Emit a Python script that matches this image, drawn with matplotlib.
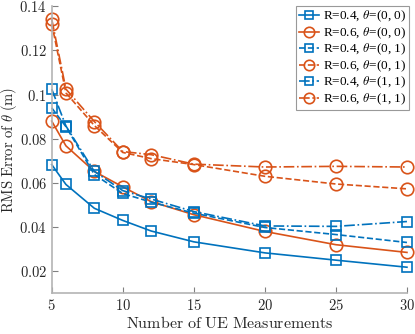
import numpy as np
import matplotlib
matplotlib.use('Agg')
import matplotlib.pyplot as plt

plt.rcParams['mathtext.fontset'] = 'cm'
plt.rcParams['font.family'] = ['DejaVu Serif']

#Number of UE measurements
n_ue = [5, 6, 8, 10, 12, 15, 20, 25, 30]

#RMS error for each case
r04_00 = [0.0683, 0.0593, 0.0485, 0.0430, 0.0382, 0.0333, 0.0283, 0.0250, 0.0218]
r06_00 = [0.0880, 0.0768, 0.0652, 0.0582, 0.0515, 0.0456, 0.0380, 0.0320, 0.0285]
r04_01 = [0.0940, 0.0855, 0.0638, 0.0552, 0.0513, 0.0463, 0.0398, 0.0366, 0.0330]
r06_01 = [0.1322, 0.1008, 0.0860, 0.0738, 0.0710, 0.0683, 0.0630, 0.0595, 0.0573]
r04_11 = [0.1025, 0.0858, 0.0652, 0.0565, 0.0527, 0.0470, 0.0405, 0.0403, 0.0425]
r06_11 = [0.1342, 0.1025, 0.0878, 0.0742, 0.0728, 0.0685, 0.0672, 0.0675, 0.0672]

blue = '#0072BD'
red  = '#D95319'

series = [
    (r04_00, blue, 's', '-',  r'R=0.4, $\theta$=(0, 0)'),
    (r06_00, red,  'o', '-',  r'R=0.6, $\theta$=(0, 0)'),
    (r04_01, blue, 's', '--', r'R=0.4, $\theta$=(0, 1)'),
    (r06_01, red,  'o', '--', r'R=0.6, $\theta$=(0, 1)'),
    (r04_11, blue, 's', '-.', r'R=0.4, $\theta$=(1, 1)'),
    (r06_11, red,  'o', '-.', r'R=0.6, $\theta$=(1, 1)'),
]

fig = plt.figure(figsize=(4.15, 3.34), dpi=100)
ax = fig.add_axes([0.1246, 0.122, 0.856, 0.859])

for vals, col, mk, ls, lab in series:
    ms = 7 if mk == 's' else 9
    ax.plot(n_ue, vals, color=col, linestyle=ls, marker=mk, markersize=ms,
            markerfacecolor='none', markeredgewidth=1.2, linewidth=1.2,
            label=lab, clip_on=False)

ax.set_xlim(5, 30)
ax.set_ylim(0.01, 0.14)
ax.set_xticks([5, 10, 15, 20, 25, 30])
ax.set_xticklabels([r'$5$', r'$10$', r'$15$', r'$20$', r'$25$', r'$30$'])
ax.set_yticks([0.02, 0.04, 0.06, 0.08, 0.1, 0.12, 0.14])
ax.set_yticklabels([r'$0.02$', r'$0.04$', r'$0.06$', r'$0.08$', r'$0.1$', r'$0.12$', r'$0.14$'])

for side in ['top', 'right']:
    ax.spines[side].set_visible(False)
for side in ['left', 'bottom']:
    ax.spines[side].set_color('#b4b4b4')
    ax.spines[side].set_linewidth(1.2)
ax.tick_params(direction='in', length=4, color='#808080', labelsize=10.5, labelcolor='#262626')

ax.set_xlabel(r'$\mathrm{Number\ of\ UE\ Measurements}$', fontsize=11.5, color='#262626', labelpad=1)
ax.set_ylabel(r'$\mathrm{RMS\ Error\ of\ }\hat{\theta}\mathrm{\ (m)}$', fontsize=10.5, color='#262626')
ax.yaxis.set_label_coords(-0.088, 0.5)

leg = ax.legend(loc='upper right', bbox_to_anchor=(1.005, 1.0),
                prop={'family': 'Liberation Serif', 'size': 9.5},
                frameon=True, fancybox=False, edgecolor='#808080',
                handlelength=1.5, handletextpad=0.3, labelspacing=0.08,
                borderpad=0.2, borderaxespad=0.0)
leg.get_frame().set_linewidth(0.8)
for h in leg.legend_handles:
    h.set_markersize(6 if h.get_marker() == 's' else 7.5)

fig.savefig('out.png', dpi=100)
